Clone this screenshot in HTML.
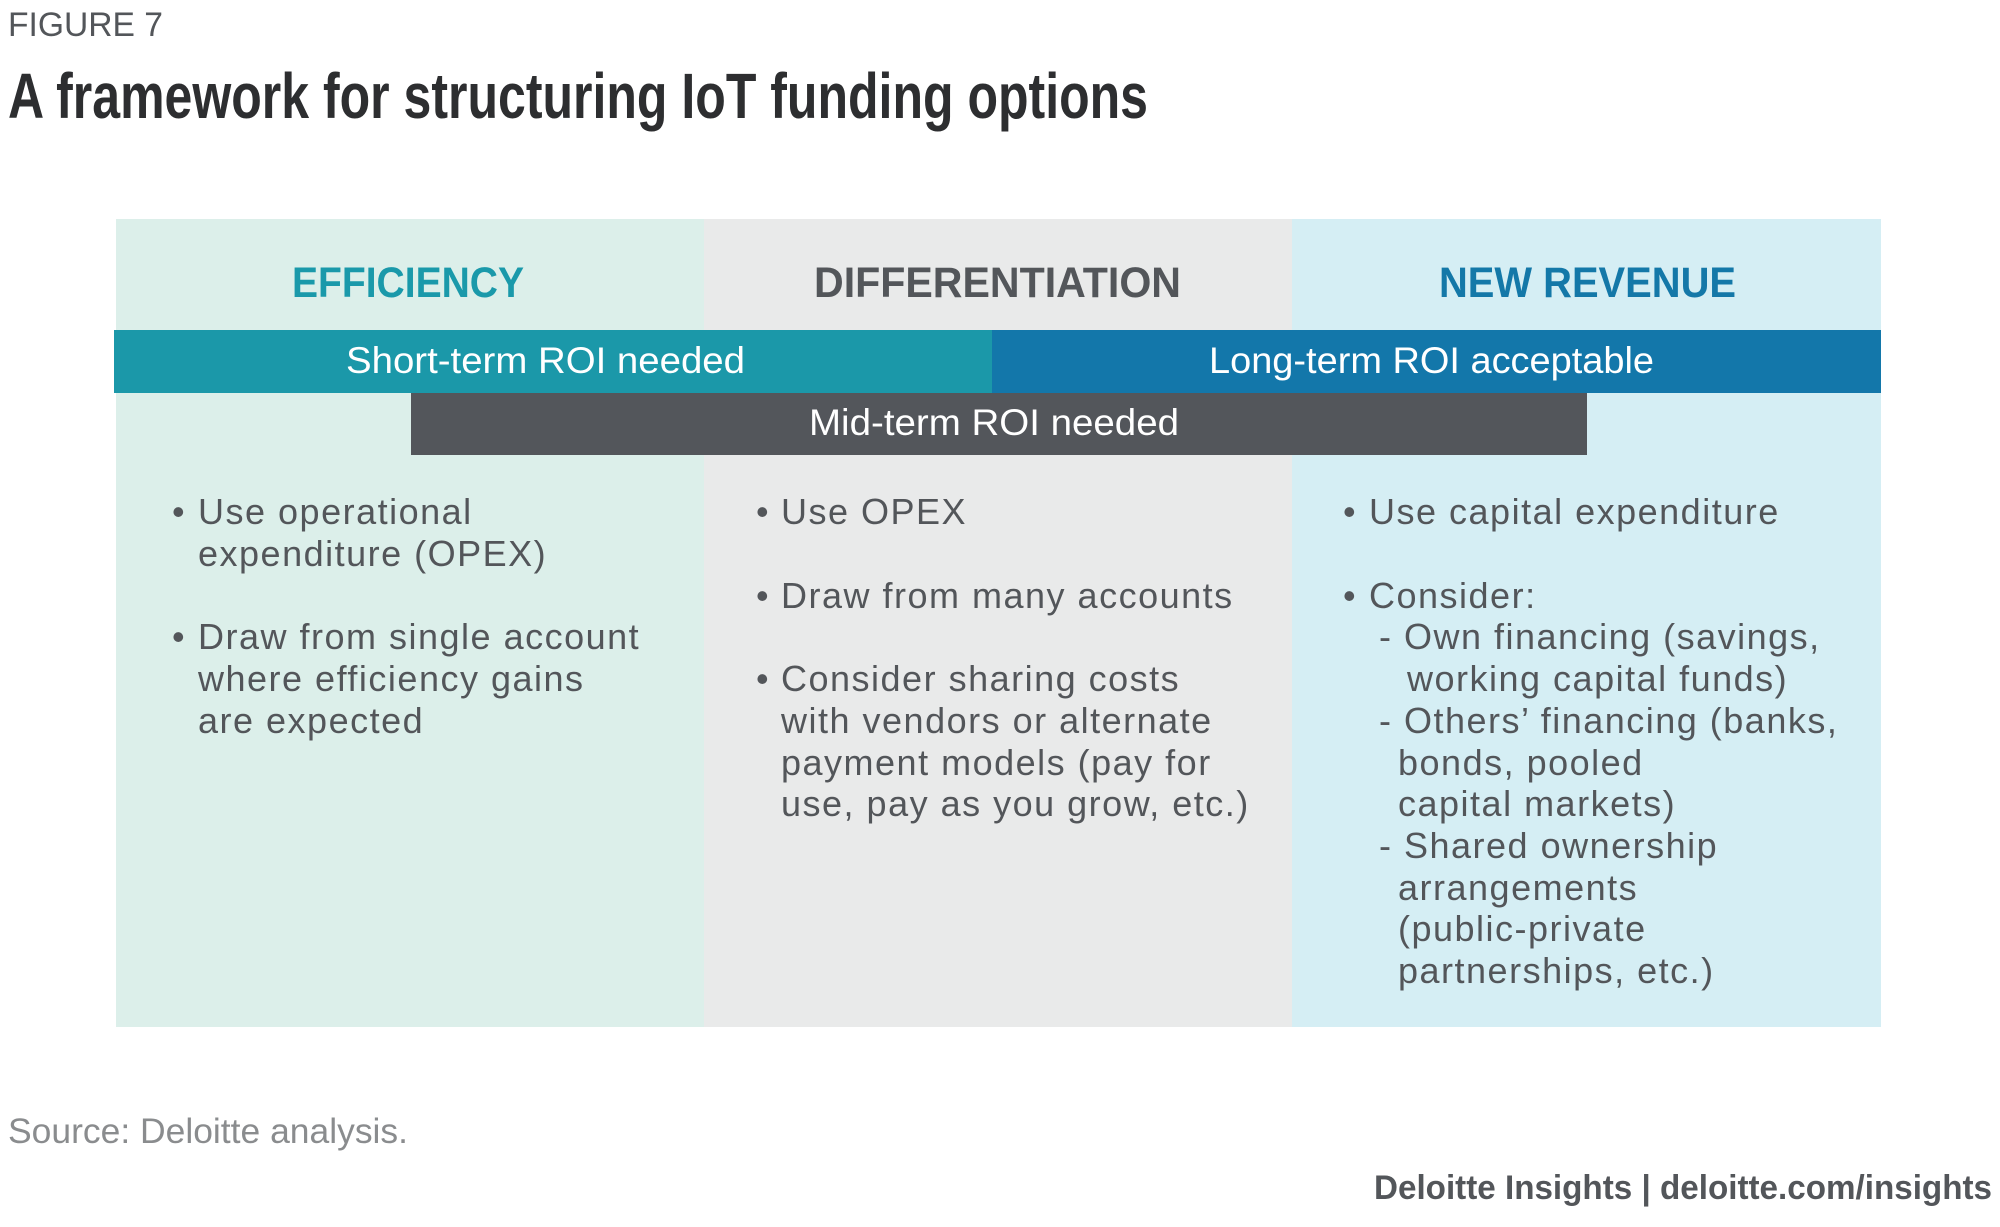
<!DOCTYPE html>
<html><head><meta charset="utf-8"><style>
html,body{margin:0;padding:0;background:#fff;}
svg{display:block;font-family:"Liberation Sans",sans-serif;}
.b{font-size:36px;fill:#53565a;letter-spacing:1.5px;}
</style></head><body>
<svg width="2000" height="1227" viewBox="0 0 2000 1227">
<text x="8" y="36" font-size="34" fill="#53565a" textLength="155" lengthAdjust="spacingAndGlyphs">FIGURE 7</text>
<text x="8" y="118" font-size="64" font-weight="bold" fill="#2d2e30" textLength="1140" lengthAdjust="spacingAndGlyphs">A framework for structuring IoT funding options</text>

<rect x="116" y="219" width="588" height="808" fill="#dcefea"/>
<rect x="704" y="219" width="588" height="808" fill="#e9eaea"/>
<rect x="1292" y="219" width="589" height="808" fill="#d5eef4"/>

<text x="292" y="297" font-size="43" font-weight="bold" fill="#1a99aa" textLength="232" lengthAdjust="spacingAndGlyphs">EFFICIENCY</text>
<text x="814" y="297" font-size="43" font-weight="bold" fill="#53565a" textLength="367" lengthAdjust="spacingAndGlyphs">DIFFERENTIATION</text>
<text x="1439" y="297" font-size="43" font-weight="bold" fill="#1478a8" textLength="297" lengthAdjust="spacingAndGlyphs">NEW REVENUE</text>

<rect x="114" y="330" width="878" height="63" fill="#1b98a9"/>
<rect x="992" y="330" width="889" height="63" fill="#1377aa"/>
<rect x="411" y="393" width="1176" height="62" fill="#53565b"/>
<text x="346" y="373" font-size="37" fill="#fff" textLength="399" lengthAdjust="spacingAndGlyphs">Short-term ROI needed</text>
<text x="1209" y="373" font-size="37" fill="#fff" textLength="445" lengthAdjust="spacingAndGlyphs">Long-term ROI acceptable</text>
<text x="809" y="435" font-size="37" fill="#fff" textLength="370" lengthAdjust="spacingAndGlyphs">Mid-term ROI needed</text>

<g class="b">
<text x="172" y="524">•</text><text x="198" y="524">Use operational</text>
<text x="198" y="566">expenditure (OPEX)</text>
<text x="172" y="649">•</text><text x="198" y="649">Draw from single account</text>
<text x="198" y="691">where efficiency gains</text>
<text x="198" y="733">are expected</text>
</g>
<g class="b">
<text x="756" y="524">•</text><text x="781" y="524">Use OPEX</text>
<text x="756" y="608">•</text><text x="781" y="608">Draw from many accounts</text>
<text x="756" y="691">•</text><text x="781" y="691">Consider sharing costs</text>
<text x="781" y="733">with vendors or alternate</text>
<text x="781" y="775">payment models (pay for</text>
<text x="781" y="816">use, pay as you grow, etc.)</text>
</g>
<g class="b">
<text x="1343" y="524">•</text><text x="1369" y="524">Use capital expenditure</text>
<text x="1343" y="608">•</text><text x="1369" y="608">Consider:</text>
<text x="1379" y="649">- Own financing (savings,</text>
<text x="1407" y="691">working capital funds)</text>
<text x="1379" y="733">- Others’ financing (banks,</text>
<text x="1398" y="775">bonds, pooled</text>
<text x="1398" y="816">capital markets)</text>
<text x="1379" y="858">- Shared ownership</text>
<text x="1398" y="900">arrangements</text>
<text x="1398" y="941">(public-private</text>
<text x="1398" y="983">partnerships, etc.)</text>
</g>

<text x="8" y="1143" font-size="35" fill="#8a8c8e" textLength="400" lengthAdjust="spacingAndGlyphs">Source: Deloitte analysis.</text>
<text x="1374" y="1199" font-size="34" font-weight="bold" fill="#53565a" textLength="618" lengthAdjust="spacingAndGlyphs">Deloitte Insights | deloitte.com/insights</text>
</svg>
</body></html>
